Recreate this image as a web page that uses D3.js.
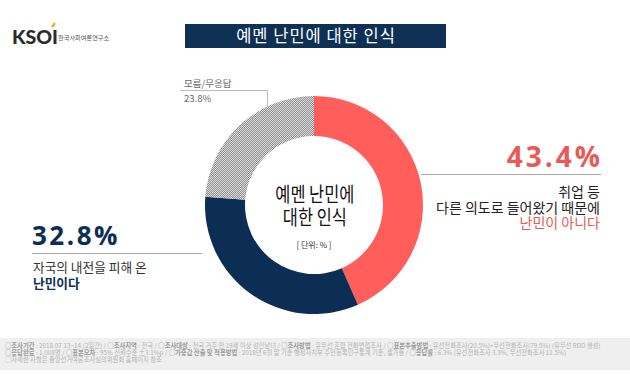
<!DOCTYPE html>
<html>
<head>
<meta charset="utf-8">
<script src="https://cdn.jsdelivr.net/npm/d3@7"></script>
<style>
  body { margin: 0; background: #fff; }
  svg { display: block; font-family: "Noto Sans CJK KR", "Noto Sans", sans-serif; }
</style>
</head>
<body>
<div id="chart"></div>
<script>
// Data
var categories = ["난민이 아니다", "난민이다", "모름/무응답"];
var values = [43.4, 32.8, 23.8];
var chartTitle = "예멘 난민에 대한 인식";
var centerLines = ["예멘 난민에", "대한 인식"];
var unitLabel = "[ 단위: % ]";
var redNote = ["취업 등", "다른 의도로 들어왔기 때문에"];
var navyNote = ["자국의 내전을 피해 온"];
var footerLines = [
  [["○조사기간", " : 2018.07.13~14.(2일간) / "], ["○조사지역", " : 전국 / "], ["○조사대상", " : 전국 거주 만 19세 이상 성인남녀 / "], ["○조사방법", " : 유무선 혼합 전화면접조사 / "], ["○표본추출방법", " : 유선전화조사(20.5%)+무선전화조사(79.5%) (유무선 RDD 생성)"]],
  [["○응답완료", " : 1,008명 / "], ["○표본오차", " : 95% 신뢰수준 ±3.1%p / "], ["○가중값 산출 및 적용방법", " : 2018년 6월 말 기준 행정자치부 주민등록인구통계 기준, 셀가중 / "], ["○응답률", " : 6.3% (유선전화조사 3.3%, 무선전화조사 11.5%)"]],
  [["", "○자세한 사항은 중앙선거여론조사심의위원회 홈페이지 참조"]]
];

(function() {
  var width = 630, height = 375;

  var svg = d3.select("#chart")
    .append("svg")
    .attr("width", width)
    .attr("height", height);

  // checkered fill for the "don't know" slice
  var defs = svg.append("defs");
  var pat = defs.append("pattern")
    .attr("id", "checker")
    .attr("width", 2).attr("height", 2)
    .attr("patternUnits", "userSpaceOnUse");
  pat.append("rect").attr("width", 2).attr("height", 2).attr("fill", "#e0e0e0");
  pat.append("rect").attr("width", 1).attr("height", 1).attr("fill", "#8a8a8a");
  pat.append("rect").attr("x", 1).attr("y", 1).attr("width", 1).attr("height", 1).attr("fill", "#8a8a8a");

  var colorScale = d3.scaleOrdinal()
    .domain(categories)
    .range(["#ff5e5b", "#0c2d54", "url(#checker)"]);

  // Logo
  var logo = svg.append("g").attr("transform", "translate(12,44)");
  logo.append("text")
    .attr("font-family", "Lato, sans-serif")
    .attr("font-weight", 900)
    .attr("font-size", 19.5)
    .attr("fill", "#2b2b2b")
    .text("KSOI");
  logo.append("line")
    .attr("x1", 40).attr("y1", -17).attr("x2", 43).attr("y2", -21)
    .attr("stroke", "#f5a623").attr("stroke-width", 2.2);
  logo.append("text")
    .attr("x", 46).attr("y", -4)
    .attr("font-size", 6.2)
    .attr("fill", "#555")
    .text("한국사회여론연구소");

  // Title box
  svg.append("rect")
    .attr("x", 185).attr("y", 24)
    .attr("width", 261).attr("height", 24)
    .attr("fill", "#0d3054");
  svg.append("text")
    .attr("x", 316).attr("y", 41.5)
    .attr("text-anchor", "middle")
    .attr("font-size", 16.5)
    .attr("letter-spacing", 1)
    .attr("fill", "#fff")
    .text(chartTitle);

  // Donut
  var cx = 314, cy = 205, outerR = 109, innerR = 69;

  var pie = d3.pie().sort(null).value(function(d) { return d.value; });
  var arc = d3.arc().innerRadius(innerR).outerRadius(outerR);

  var data = categories.map(function(c, i) { return {name: c, value: values[i]}; });

  var donut = svg.append("g").attr("transform", "translate(" + cx + "," + cy + ")");
  donut.selectAll("path")
    .data(pie(data))
    .enter().append("path")
    .attr("d", arc)
    .attr("fill", function(d) { return colorScale(d.data.name); });

  // center text, condensed like the original
  donut.append("g")
    .attr("transform", "scale(0.82,1)")
    .append("text")
    .attr("text-anchor", "middle")
    .attr("font-size", 20)
    .attr("fill", "#111")
    .selectAll("tspan")
    .data(centerLines)
    .enter().append("tspan")
    .attr("x", 1)
    .attr("y", function(d, i) { return -3 + i * 22.5; })
    .text(function(d) { return d; });
  donut.append("text")
    .attr("text-anchor", "middle")
    .attr("y", 43)
    .attr("font-size", 8)
    .attr("fill", "#333")
    .text(unitLabel);

  // Red label (right)
  svg.append("text")
    .attr("x", 603).attr("y", 167)
    .attr("text-anchor", "end")
    .attr("font-family", "'Open Sans', sans-serif")
    .attr("font-weight", 700)
    .attr("font-size", 28)
    .attr("letter-spacing", 3)
    .attr("fill", "#e85a57")
    .text(values[0].toFixed(1) + "%");
  svg.append("line")
    .attr("x1", 421).attr("y1", 174.5).attr("x2", 601).attr("y2", 174.5)
    .attr("stroke", "#aaa").attr("stroke-width", 1);
  var redLines = redNote.map(function(t) { return [t, "#222"]; }).concat([[categories[0], "#e85a57"]]);
  svg.append("text")
    .attr("text-anchor", "end")
    .attr("font-size", 14)
    .selectAll("tspan")
    .data(redLines)
    .enter().append("tspan")
    .attr("x", 600)
    .attr("y", function(d, i) { return 197 + i * 15.7; })
    .attr("fill", function(d) { return d[1]; })
    .text(function(d) { return d[0]; });

  // Navy label (left)
  svg.append("text")
    .attr("x", 32).attr("y", 245)
    .attr("font-family", "'Open Sans', sans-serif")
    .attr("font-weight", 700)
    .attr("font-size", 26)
    .attr("letter-spacing", 2.5)
    .attr("fill", "#0c2d54")
    .text(values[1].toFixed(1) + "%");
  svg.append("line")
    .attr("x1", 32).attr("y1", 253.5).attr("x2", 202).attr("y2", 253.5)
    .attr("stroke", "#aaa").attr("stroke-width", 1);
  var navyLines = navyNote.map(function(t) { return [t, "#333", 400]; }).concat([[categories[1], "#0c2d54", 700]]);
  svg.append("text")
    .attr("font-size", 12.7)
    .selectAll("tspan")
    .data(navyLines)
    .enter().append("tspan")
    .attr("x", 33)
    .attr("y", function(d, i) { return 272 + i * 16; })
    .attr("fill", function(d) { return d[1]; })
    .attr("font-weight", function(d) { return d[2]; })
    .text(function(d) { return d[0]; });

  // Gray label (top left)
  svg.append("text")
    .attr("font-size", 9.5)
    .attr("fill", "#666")
    .selectAll("tspan")
    .data([categories[2], values[2].toFixed(1) + "%"])
    .enter().append("tspan")
    .attr("x", 184)
    .attr("y", function(d, i) { return 87 + i * 15; })
    .text(function(d) { return d; });
  svg.append("path")
    .attr("d", "M180,90.5 H267.5 V106")
    .attr("fill", "none")
    .attr("stroke", "#bbb").attr("stroke-width", 1);

  // Footer
  svg.append("rect")
    .attr("x", 0).attr("y", 338)
    .attr("width", width).attr("height", 32)
    .attr("fill", "#efefef");
  var foot = svg.append("text")
    .attr("font-size", 6.3)
    .attr("fill", "#aaa");
  var rows = foot.selectAll("tspan.row")
    .data(footerLines)
    .enter().append("tspan")
    .attr("class", "row")
    .attr("x", 5)
    .attr("y", function(d, i) { return 347.5 + i * 7; });
  rows.selectAll("tspan")
    .data(function(d) { return d.reduce(function(a, p) { return a.concat([[p[0], true], [p[1], false]]); }, []); })
    .enter().append("tspan")
    .attr("font-weight", function(d) { return d[1] ? 700 : 400; })
    .attr("fill", function(d) { return d[1] ? "#9a9a9a" : "#b3b3b3"; })
    .text(function(d) { return d[0]; });
})();
</script>
</body>
</html>
